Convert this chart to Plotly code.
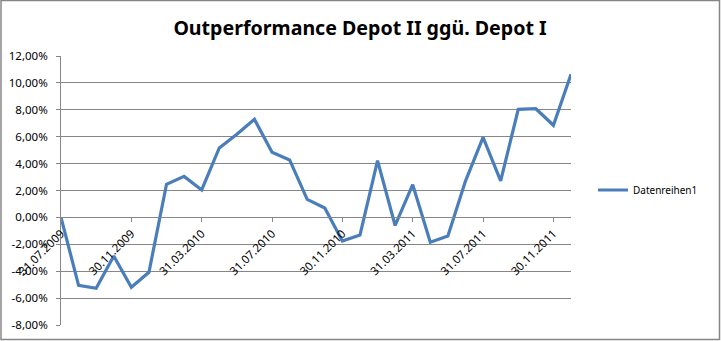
import plotly.graph_objects as go

dates = [
    "31.07.2009", "31.08.2009", "30.09.2009", "31.10.2009", "30.11.2009", "31.12.2009",
    "31.01.2010", "28.02.2010", "31.03.2010", "30.04.2010", "31.05.2010", "30.06.2010",
    "31.07.2010", "31.08.2010", "30.09.2010", "31.10.2010", "30.11.2010", "31.12.2010",
    "31.01.2011", "28.02.2011", "31.03.2011", "30.04.2011", "31.05.2011", "30.06.2011",
    "31.07.2011", "31.08.2011", "30.09.2011", "31.10.2011", "30.11.2011", "31.12.2011",
]
outperformance = [
    0.00, -5.05, -5.27, -2.87, -5.20, -4.08,
    2.46, 3.05, 2.04, 5.16, 6.18, 7.29,
    4.84, 4.27, 1.34, 0.70, -1.76, -1.31,
    4.22, -0.60, 2.43, -1.85, -1.38, 2.70,
    5.95, 2.71, 8.03, 8.08, 6.85, 10.64,
]
tick_dates = dates[::4]
y_ticks = [-8, -6, -4, -2, 0, 2, 4, 6, 8, 10, 12]
y_tick_text = [f"{v:.2f}".replace(".", ",") + "%" for v in y_ticks]
series_name = "Datenreihen1"
title_text = "Outperformance Depot II ggü. Depot I"

W, H = 721, 341
L, R, T, B = 61, 150, 56, 16
pw, ph = W - L - R, H - T - B
ymin, ymax = -8, 12
grid = "#868686"
font = "Noto Sans"

fig = go.Figure()
fig.add_trace(go.Scatter(
    x=dates, y=outperformance, mode="lines", name=series_name,
    line=dict(color="#4A7EBB", width=3.2), showlegend=True,
))

fig.update_layout(
    width=W, height=H,
    margin=dict(l=L, r=R, t=T, b=B, pad=0, autoexpand=False),
    paper_bgcolor="white", plot_bgcolor="white",
    font=dict(family=font, size=11, color="#000000"),
    title=dict(text=title_text, x=360 / W, xref="container", xanchor="center",
               y=1 - 28 / H, yref="container", yanchor="middle",
               font=dict(family=font, size=19.6, color="#000000", weight="bold")),
    legend=dict(x=(593 - L) / pw, y=(H - B - 190) / ph, xanchor="left", yanchor="middle",
                font=dict(family=font, size=10, color="#000000"),
                bgcolor="rgba(0,0,0,0)", borderwidth=0),
    xaxis=dict(
        type="category", range=[0, len(dates) - 1], automargin=False,
        anchor="free", position=(0 - ymin) / (ymax - ymin),
        showgrid=False, zeroline=False,
        showline=True, linecolor=grid, linewidth=1,
        ticks="outside", ticklen=4, tickcolor=grid,
        tickmode="array", tickvals=tick_dates, ticktext=tick_dates,
        tickangle=-45, tickfont=dict(family=font, size=11.5, color="#000000"),
    ),
    yaxis=dict(
        range=[ymin, ymax], domain=[0, 1], automargin=False,
        tickmode="array", tickvals=y_ticks, ticktext=y_tick_text,
        showgrid=True, gridcolor=grid, gridwidth=1, zeroline=False,
        showline=True, linecolor=grid, linewidth=1,
        ticks="outside", ticklen=4, tickcolor=grid,
        ticklabelstandoff=6,
        tickfont=dict(family=font, size=11.5, color="#000000"),
    ),
)

fig.add_shape(type="rect", xref="paper", yref="paper",
              x0=(1 - L) / pw, x1=(719.5 - L) / pw,
              y0=(H - B - 339.5) / ph, y1=(H - B - 0.5) / ph,
              line=dict(color="#868686", width=1.5), fillcolor="rgba(0,0,0,0)", layer="below")

fig.write_html("out.html")
